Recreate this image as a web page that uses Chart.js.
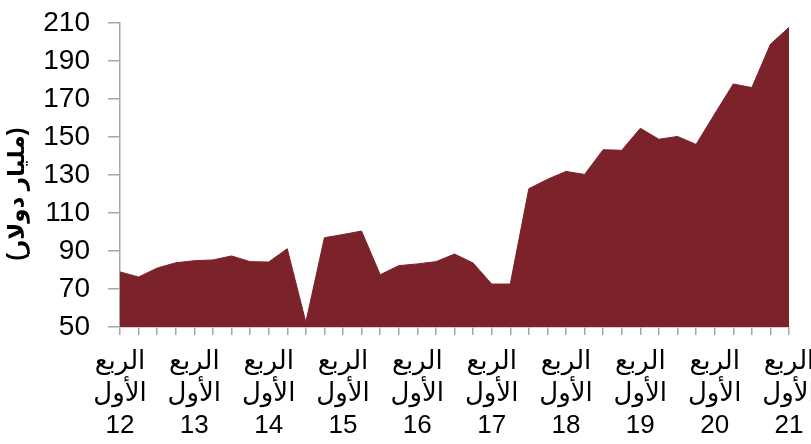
<!DOCTYPE html>
<html>
<head>
<meta charset="utf-8">
<script src="https://cdn.jsdelivr.net/npm/chart.js@4"></script>
<style>
  body { margin: 0; background: #fff; }
</style>
</head>
<body>
<canvas id="chart" width="811" height="444"></canvas>
<script>
// quarterly values, Q1 2012 .. Q1 2021
const years = ["12", "13", "14", "15", "16", "17", "18", "19", "20", "21"];
const values = [
    79, 76.3, 81, 83.8, 84.9, 85.3, 87.4, 84.4,
    84.2, 91.2, 52.5, 97, 98.7, 100.5, 77.5, 82.3,
    83.2, 84.4, 88.4, 83.7, 72.6, 72.6, 122.8, 127.7,
    131.9, 130.3, 143.3, 143, 154.6, 148.8, 150.3, 146.1,
    162.1, 177.9, 176, 198.8, 207.7
];
const yTicks = [50, 70, 90, 110, 130, 150, 170, 190, 210];
const quarterWords = ["الربع", "الأول"];
const yTitle = "(مليار دولار)";

const labels = values.map((v, i) => i);
const fontFamily = "'Liberation Sans', Arial, 'DejaVu Sans', sans-serif";
const axisGray = "#a6a6a6";

const ctx = document.getElementById("chart").getContext("2d");
new Chart(ctx, {
    type: "line",
    data: {
        labels: labels,
        datasets: [{
            data: values,
            fill: "start",
            backgroundColor: "#7b222a",
            borderColor: "#7b222a",
            borderWidth: 1,
            pointRadius: 0,
            tension: 0
        }]
    },
    options: {
        responsive: false,
        animation: false,
        layout: { padding: { top: 23, right: 22, left: 0, bottom: 0 } },
        plugins: {
            legend: { display: false },
            tooltip: { enabled: false }
        },
        scales: {
            x: {
                type: "category",
                offset: false,
                border: { color: axisGray, width: 1.5 },
                grid: { drawOnChartArea: false, color: axisGray, tickLength: 8, lineWidth: 1.5 },
                ticks: {
                    autoSkip: false,
                    maxRotation: 0,
                    minRotation: 0,
                    padding: 11,
                    color: "#000",
                    font: { family: fontFamily, size: 26, lineHeight: 1.23 },
                    callback: (val, i) => i % 4 === 0 ? [...quarterWords, years[i / 4]] : ""
                },
                afterFit: scale => {
                    scale.height = 117;
                    scale.paddingLeft = 0;
                    scale.paddingRight = 0;
                }
            },
            y: {
                min: 50,
                max: 210,
                border: { color: axisGray, width: 1.5 },
                grid: { drawOnChartArea: false, color: axisGray, tickLength: 12, lineWidth: 1.5 },
                afterBuildTicks: scale => {
                    scale.ticks = yTicks.map(v => ({ value: v }));
                },
                ticks: {
                    autoSkip: false,
                    padding: 18,
                    color: "#000",
                    font: { family: fontFamily, size: 28 }
                },
                title: {
                    display: true,
                    // trailing spaces push the title a little below the middle, as in the original
                    text: yTitle + "\u00a0\u00a0\u00a0\u00a0\u00a0\u00a0",
                    color: "#000",
                    padding: { top: 4, bottom: 0 },
                    font: { family: fontFamily, size: 23, weight: "bold" }
                },
                afterFit: scale => {
                    scale.width = 120;
                    scale.paddingTop = 0;
                    scale.paddingBottom = 0;
                }
            }
        }
    }
});
</script>
</body>
</html>
